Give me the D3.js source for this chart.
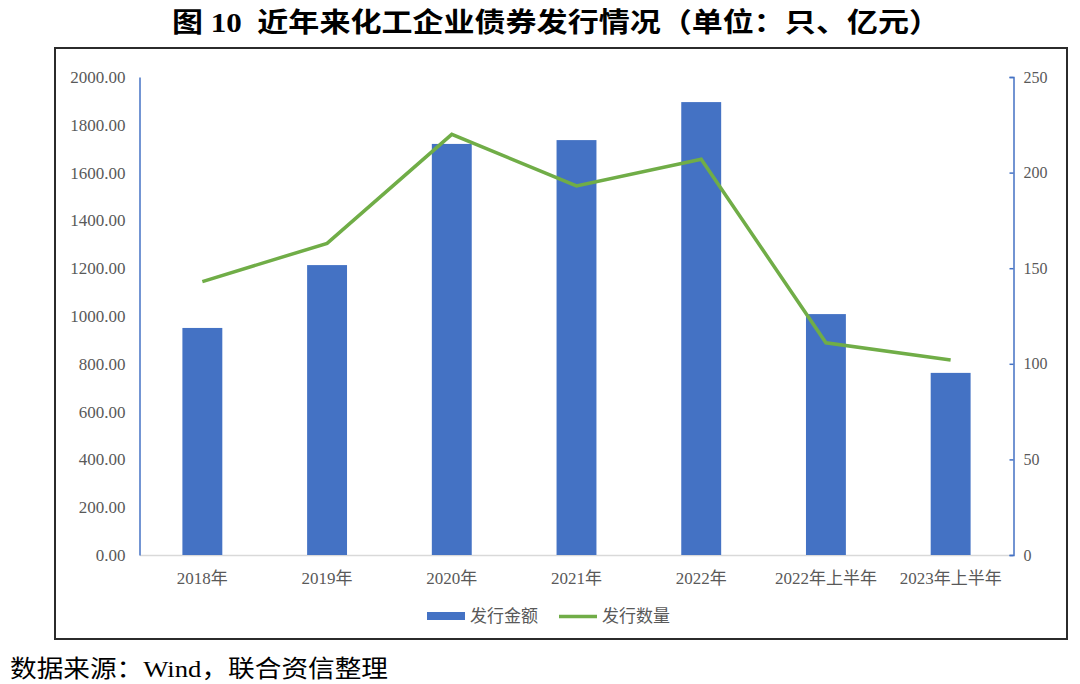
<!DOCTYPE html>
<html>
<head>
<meta charset="utf-8">
<script src="https://cdn.jsdelivr.net/npm/d3@7"></script>
<style>
  body { margin: 0; background: #fff; }
  svg { display: block; }
</style>
</head>
<body>
<div id="chart"></div>
<script>
// data
var categories = ["2018年", "2019年", "2020年", "2021年", "2022年", "2022年上半年", "2023年上半年"];
var amounts = [950, 1213, 1720, 1736, 1895, 1008, 762];   // 发行金额 (亿元), left axis
var counts = [143, 163, 220, 193, 207, 111, 102];         // 发行数量 (只), right axis
var leftTicks = [0, 200, 400, 600, 800, 1000, 1200, 1400, 1600, 1800, 2000];
var rightTicks = [0, 50, 100, 150, 200, 250];

var width = 1080, height = 684;
var blue = "#4472c4", green = "#70ad47", grey = "#595959";
var serif = "'Liberation Serif', 'Times New Roman', 'Noto Sans CJK SC', serif";
var cjk = "'Liberation Serif', 'Noto Sans CJK SC', sans-serif";

var svg = d3.select("#chart").append("svg")
    .attr("width", width)
    .attr("height", height);

// title
svg.append("text")
    .attr("x", 556).attr("y", 32)
    .attr("text-anchor", "middle")
    .attr("font-family", cjk)
    .attr("font-weight", "bold")
    .attr("font-size", 27)
    .attr("textLength", 768)
    .attr("lengthAdjust", "spacingAndGlyphs")
    .attr("fill", "#000")
    .text("图\u00a010\u00a0\u00a0近年来化工企业债券发行情况（单位：只、亿元）");

// frame around the chart
svg.append("rect")
    .attr("x", 55).attr("y", 48)
    .attr("width", 1012).attr("height", 591)
    .attr("fill", "none")
    .attr("stroke", "#2b2b2b")
    .attr("stroke-width", 2);

var plot = {left: 140, right: 1013, top: 77, bottom: 555};

var x = d3.scaleBand()
    .domain(categories)
    .range([plot.left, plot.right])
    .paddingInner(0.68)
    .paddingOuter(0.34);

var yL = d3.scaleLinear().domain([0, 2000]).range([plot.bottom, plot.top]);
var yR = d3.scaleLinear().domain([0, 250]).range([plot.bottom, plot.top]);

// baseline
svg.append("line")
    .attr("x1", plot.left).attr("x2", plot.right)
    .attr("y1", plot.bottom + 0.5).attr("y2", plot.bottom + 0.5)
    .attr("stroke", "#d9d9d9").attr("stroke-width", 1.5);

// left axis
var leftAxis = svg.append("g")
    .attr("transform", "translate(" + (plot.left - 0.5) + ",0)")
    .call(d3.axisLeft(yL).tickValues(leftTicks).tickSize(0).tickPadding(14)
        .tickFormat(d3.format(".2f")));
leftAxis.select(".domain").attr("stroke", blue).attr("stroke-width", 1.5);
leftAxis.selectAll("text")
    .attr("fill", grey).attr("font-family", serif).attr("font-size", 17);

// right axis
var rightAxis = svg.append("g")
    .attr("transform", "translate(" + (plot.right + 0.5) + ",0)")
    .call(d3.axisRight(yR).tickValues(rightTicks).tickSizeInner(-4).tickSizeOuter(-4).tickPadding(10));
rightAxis.select(".domain").attr("stroke", blue).attr("stroke-width", 1.5);
rightAxis.selectAll(".tick line").attr("stroke", blue).attr("stroke-width", 1.5);
rightAxis.selectAll("text")
    .attr("fill", grey).attr("font-family", serif).attr("font-size", 16);

// x axis labels
var xAxis = svg.append("g")
    .attr("transform", "translate(0," + plot.bottom + ")")
    .call(d3.axisBottom(x).tickSize(0).tickPadding(17));
xAxis.select(".domain").remove();
xAxis.selectAll("text")
    .attr("fill", grey).attr("font-family", cjk).attr("font-size", 17);

// bars
svg.append("g").selectAll("rect")
    .data(amounts)
    .join("rect")
    .attr("x", (d, i) => x(categories[i]))
    .attr("y", d => yL(d))
    .attr("width", x.bandwidth())
    .attr("height", d => yL(0) - yL(d))
    .attr("fill", blue);

// line
var line = d3.line()
    .x((d, i) => x(categories[i]) + x.bandwidth() / 2)
    .y(d => yR(d));
svg.append("path")
    .datum(counts)
    .attr("d", line)
    .attr("fill", "none")
    .attr("stroke", green)
    .attr("stroke-width", 3.5)
    .attr("stroke-linejoin", "miter");

// legend
var legend = svg.append("g").attr("font-family", cjk).attr("font-size", 17).attr("fill", grey);
legend.append("rect")
    .attr("x", 427).attr("y", 612).attr("width", 38).attr("height", 8)
    .attr("fill", blue);
legend.append("text").attr("x", 470).attr("y", 622).text("发行金额");
legend.append("line")
    .attr("x1", 559).attr("x2", 597).attr("y1", 616.5).attr("y2", 616.5)
    .attr("stroke", green).attr("stroke-width", 3.5);
legend.append("text").attr("x", 602).attr("y", 622).text("发行数量");

// source note
svg.append("text")
    .attr("x", 10).attr("y", 677)
    .attr("font-family", cjk)
    .attr("font-size", 24)
    .attr("textLength", 378)
    .attr("lengthAdjust", "spacingAndGlyphs")
    .attr("fill", "#000")
    .text("数据来源：Wind，联合资信整理");
</script>
</body>
</html>
